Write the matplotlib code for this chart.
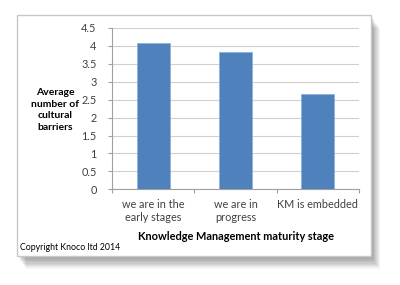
import matplotlib
matplotlib.use("Agg")
import matplotlib.pyplot as plt
from matplotlib.patches import Rectangle

categories = ["we are in the\nearly stages", "we are in\nprogress", "KM is embedded"]
values = [4.08, 3.83, 2.66]
yticks = [0, 0.5, 1, 1.5, 2, 2.5, 3, 3.5, 4, 4.5]
ytick_labels = ["0", "0.5", "1", "1.5", "2", "2.5", "3", "3.5", "4", "4.5"]

W, H = 400, 285
fig = plt.figure(figsize=(W/100, H/100), dpi=100)
fig.patch.set_facecolor("white")
plt.rcParams['font.family'] = ['Lato', 'DejaVu Sans']

def fx(x): return x / W
def fy(y): return 1 - y / H

# soft shadow
for i in range(10):
    off = 1 + i*1.3
    fig.patches.append(Rectangle((fx(17 + off*0.7), fy(256 + off)), fx(371 - 17), (256 - 15) / H,
                                 transform=fig.transFigure, facecolor="black", alpha=0.045,
                                 edgecolor="none", zorder=0))
# frame
fig.patches.append(Rectangle((fx(17), fy(256)), fx(371 - 17), (256 - 15) / H,
                             transform=fig.transFigure, facecolor="white",
                             edgecolor="#c8c8c8", linewidth=1.0, zorder=1))

ax = fig.add_axes([fx(112), fy(189.3), fx(359 - 112), (189.3 - 28) / H])
ax.set_zorder(2)
ax.patch.set_alpha(0)
x = list(range(len(categories)))
ax.bar(x, values, width=0.4, color="#4F81BD", edgecolor="#8fb0d8", linewidth=0.6, zorder=3)
ax.set_xlim(-0.5, 2.5)
ax.set_ylim(0, 4.5)
ax.set_yticks(yticks)
ax.set_yticklabels(ytick_labels, fontsize=7.8, color="#404040")
ax.set_xticks(x)
ax.set_xticklabels(categories, fontsize=7.8, color="#404040", linespacing=1.25)
ax.tick_params(axis="x", length=0, pad=7)
ax.tick_params(axis="y", length=3, color="#a0a0a0", width=0.8, pad=8)
ax.set_xticks([-0.5, 0.5, 1.5, 2.5], minor=True)
ax.tick_params(axis="x", which="minor", length=3, color="#a0a0a0", width=0.8)
ax.grid(axis="y", color="#d0d0d0", linewidth=0.8, zorder=0)
ax.set_axisbelow(True)
for s in ["top", "right"]:
    ax.spines[s].set_visible(False)
ax.spines["left"].set_color("#a0a0a0")
ax.spines["bottom"].set_color("#a0a0a0")
ax.spines["left"].set_linewidth(0.8)
ax.spines["bottom"].set_linewidth(0.8)

fig.text(fx(55), fy(110), "Average\nnumber of\ncultural\nbarriers", ha="center", va="center",
         fontsize=7.5, fontweight="bold", color="black", linespacing=1.35, zorder=3)
fig.text(fx(235.5), fy(237), "Knowledge Management maturity stage", ha="center", va="center",
         fontsize=7.9, fontweight="bold", color="black", zorder=3)
fig.text(fx(20), fy(248), "Copyright Knoco ltd 2014", ha="left", va="center",
         fontsize=6.3, color="black", zorder=3)

fig.savefig("out.png", dpi=100)
